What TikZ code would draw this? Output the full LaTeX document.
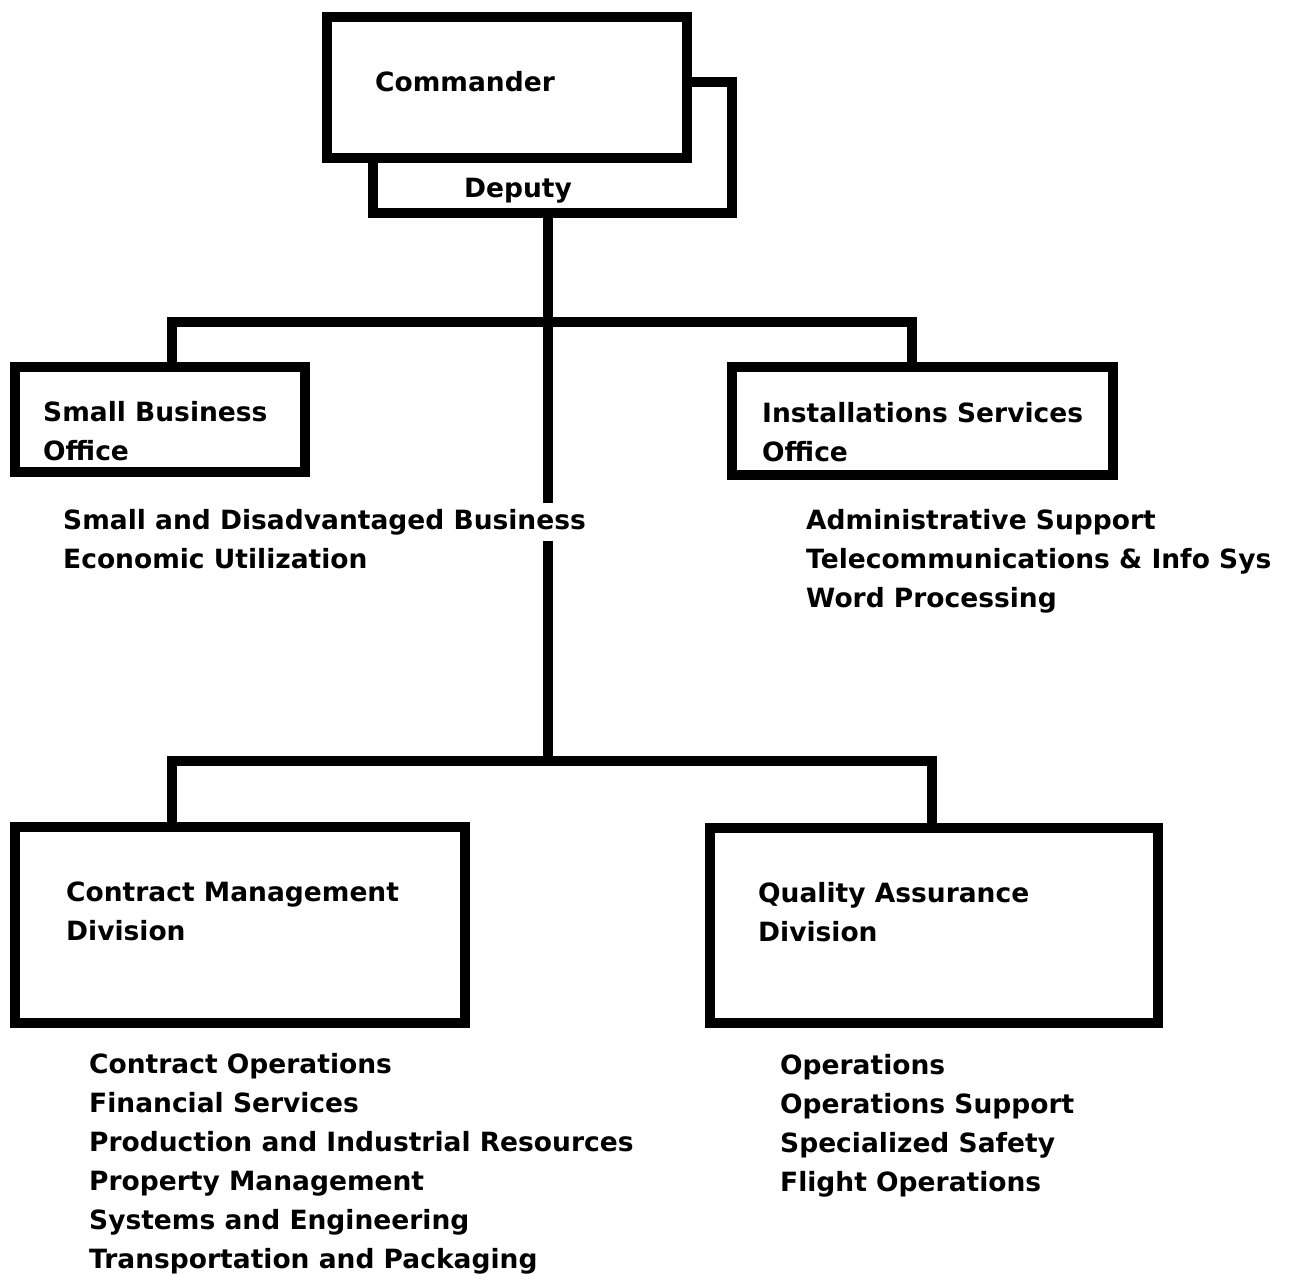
\documentclass[tikz,border=0pt]{standalone}
\usepackage{fontspec}
\setmainfont{DejaVu Sans}
\pgfdeclarelayer{bg}
\pgfsetlayers{bg,main}
\begin{document}
\begin{tikzpicture}[x=1pt,y=-1pt,
  conn/.style={line width=10pt},
  box/.style={draw, line width=10pt, fill=white, inner sep=0pt, rectangle},
  lbl/.style={anchor=base west, inner sep=0pt, font=\fontsize{26.5}{39}\bfseries},
  lblc/.style={anchor=base, inner sep=0pt, font=\fontsize{26.5}{39}\bfseries}]
\useasboundingbox (0,0) rectangle (1298,1275);
% junction coordinates
\coordinate (j1) at (548,322);
\coordinate (j2) at (548,761);
\coordinate (lt) at (172,322);
\coordinate (rt) at (912,322);
\coordinate (lb) at (172,761);
\coordinate (rb) at (932,761);
% boxes
\node[box, minimum width=359pt, minimum height=131pt] (dep) at (552.5,147.5) {};
\node[box, minimum width=360pt, minimum height=141pt] (com) at (507,87.5) {};
\node[box, minimum width=290pt, minimum height=105pt] (sbo) at (160,419.5) {};
\node[box, minimum width=381pt, minimum height=108pt] (iso) at (922.5,421) {};
\node[box, minimum width=450pt, minimum height=196pt] (cmd) at (240,925) {};
\node[box, minimum width=448pt, minimum height=195pt] (qad) at (934,925.5) {};
% connectors behind the boxes
\begin{pgfonlayer}{bg}
\fill[white] (0,0) rectangle (1298,1275);
\draw[conn] (dep.south -| j1) -- (j2);
\draw[conn] (sbo.north -| lt) |- (j1) -| (iso.north -| rt);
\draw[conn] (cmd.north -| lb) |- (j2) -| (qad.north -| rb);
\end{pgfonlayer}
% texts
\node[lbl] (tcom) at (375,91) {Commander};
\node[lblc] (tdep) at (518,197) {Deputy};
\node[lbl] (tsbo1) at (43,421) {Small Business};
\node[lbl] (tsbo2) at (43,460) {Office};
\node[lbl] (tiso1) at (762,422) {Installations Services};
\node[lbl] (tiso2) at (762,461) {Office};
\node[lbl, fill=white, inner sep=6pt] (ls1) at ([xshift=-6pt]63,529) {Small and Disadvantaged Business};
\node[lbl] (ls2) at (63,568) {Economic Utilization};
\node[lbl] (li1) at (806,529) {Administrative Support};
\node[lbl] (li2) at (806,568) {Telecommunications \& Info Sys};
\node[lbl] (li3) at (806,607) {Word Processing};
\node[lbl] (tcmd1) at (66,901) {Contract Management};
\node[lbl] (tcmd2) at (66,940) {Division};
\node[lbl] (tqad1) at (758,902) {Quality Assurance};
\node[lbl] (tqad2) at (758,941) {Division};
\node[lbl] (lc1) at (89,1073) {Contract Operations};
\node[lbl] (lc2) at (89,1112) {Financial Services};
\node[lbl] (lc3) at (89,1151) {Production and Industrial Resources};
\node[lbl] (lc4) at (89,1190) {Property Management};
\node[lbl] (lc5) at (89,1229) {Systems and Engineering};
\node[lbl] (lc6) at (89,1268) {Transportation and Packaging};
\node[lbl] (lq1) at (780,1074) {Operations};
\node[lbl] (lq2) at (780,1113) {Operations Support};
\node[lbl] (lq3) at (780,1152) {Specialized Safety};
\node[lbl] (lq4) at (780,1191) {Flight Operations};
\end{tikzpicture}
\end{document}
